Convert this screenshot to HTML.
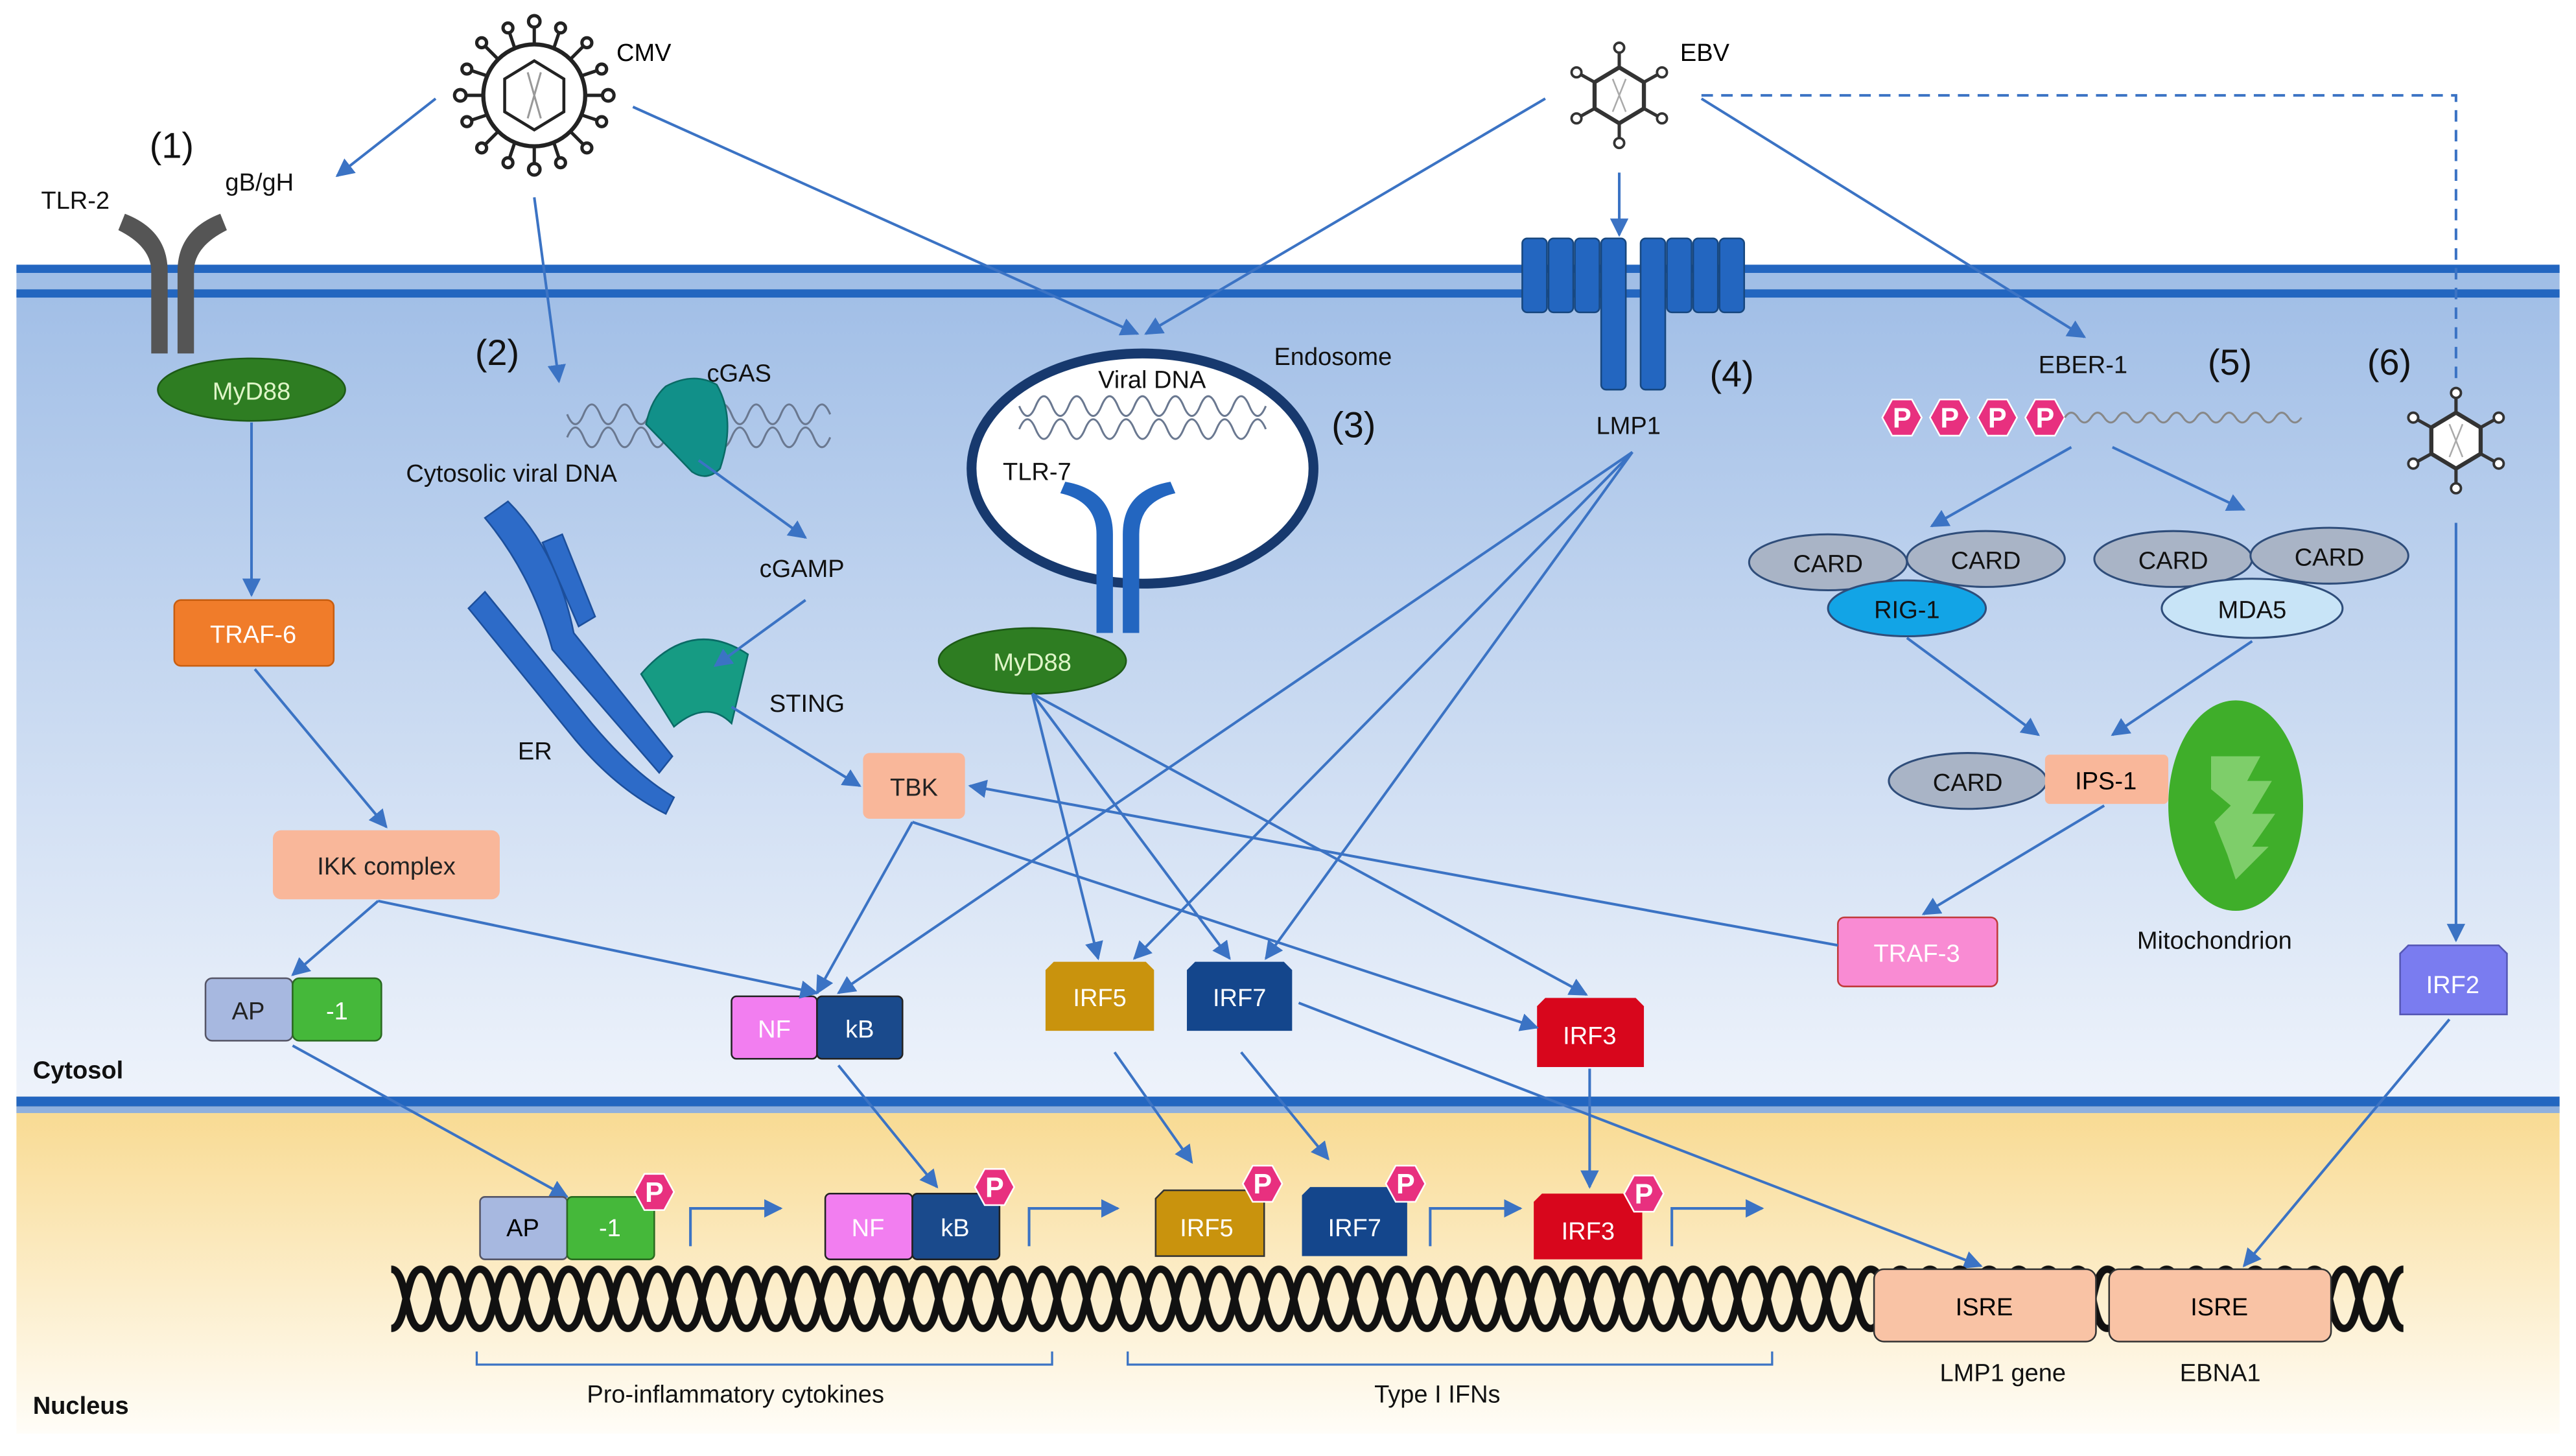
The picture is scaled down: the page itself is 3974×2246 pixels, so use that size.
<!DOCTYPE html>
<html><head><meta charset="utf-8"><style>
html,body{margin:0;padding:0;background:#fff}
svg{display:block}
text{font-family:"Liberation Sans",sans-serif}
</style></head><body>
<svg width="3974" height="2246" viewBox="0 0 1567 885.6" preserveAspectRatio="none" xmlns="http://www.w3.org/2000/svg">
<defs>
<linearGradient id="cyt" x1="0" y1="0" x2="0" y2="1"><stop offset="0" stop-color="#9fbde6"/><stop offset="1" stop-color="#eef3fb"/></linearGradient>
<linearGradient id="nuc" x1="0" y1="0" x2="0" y2="1"><stop offset="0" stop-color="#f8d98e"/><stop offset="1" stop-color="#fffdf8"/></linearGradient>
<marker id="ah" viewBox="0 0 10 10" refX="9" refY="5" markerWidth="7" markerHeight="7" orient="auto-start-reverse"><path d="M0,0 L10,5 L0,10 z" fill="#3b73c4"/></marker>
<pattern id="dna" patternUnits="userSpaceOnUse" x="238" y="768" width="36" height="44">
<path d="M0,4 C10,4 8,40 18,40 C28,40 26,4 36,4" fill="none" stroke="#111" stroke-width="4.5"/>
<path d="M0,40 C10,40 8,4 18,4 C28,4 26,40 36,40" fill="none" stroke="#111" stroke-width="4.5"/>
</pattern>
<g id="pp"><polygon points="-6,-11 6,-11 12,0 6,11 -6,11 -12,0" fill="#e8307f" stroke="#fff" stroke-width="1"/><text x="0" y="6" font-size="17" font-weight="bold" fill="#fff" text-anchor="middle">P</text></g>
<g id="ebv"><polygon points="0,-17 15,-8 15,8 0,17 -15,8 -15,-8" fill="#fff" stroke="#333" stroke-width="2.5"/>
<path d="M0,-17V-27M0,17V27M15,-8L24,-13M-15,-8L-24,-13M15,8L24,13M-15,8L-24,13" stroke="#333" stroke-width="2"/>
<circle cx="0" cy="-29" r="3" fill="#fff" stroke="#333" stroke-width="1.5"/><circle cx="0" cy="29" r="3" fill="#fff" stroke="#333" stroke-width="1.5"/>
<circle cx="26" cy="-14" r="3" fill="#fff" stroke="#333" stroke-width="1.5"/><circle cx="-26" cy="-14" r="3" fill="#fff" stroke="#333" stroke-width="1.5"/>
<circle cx="26" cy="14" r="3" fill="#fff" stroke="#333" stroke-width="1.5"/><circle cx="-26" cy="14" r="3" fill="#fff" stroke="#333" stroke-width="1.5"/>
<path d="M-4,-10 L4,10 M4,-10 L-4,10" stroke="#aaa" stroke-width="1"/></g>
</defs>
<rect x="10" y="162" width="1547" height="505" fill="url(#cyt)"/>
<rect x="10" y="667" width="1547" height="205" fill="url(#nuc)"/>
<rect x="10" y="161" width="1547" height="5" fill="#2366c0"/>
<rect x="10" y="176" width="1547" height="5" fill="#2366c0"/>
<rect x="10" y="667" width="1547" height="6" fill="#2366c0"/>
<rect x="10" y="673" width="1547" height="4" fill="#8fb0de"/>

<ellipse cx="695" cy="285" rx="104" ry="70" fill="#fff" stroke="#17396e" stroke-width="6"/>

<g transform="translate(325,58)">
<circle r="31" fill="#fff" stroke="#222" stroke-width="2.5"/>
<polygon points="0,-21 18,-10 18,10 0,21 -18,10 -18,-10" fill="none" stroke="#222" stroke-width="1.8"/>
<path d="M-4,-14 L4,14 M4,-14 L-4,14" stroke="#999" stroke-width="1.2"/>
<g stroke="#222" stroke-width="2" fill="#fff">
<path d="M0,-31V-42M0,31V42M31,0H42M-31,0H-42M22,-22L30,-30M-22,-22L-30,-30M22,22L30,30M-22,22L-30,30M12,-29L15,-38M-12,-29L-15,-38M12,29L15,38M-12,29L-15,38M29,12L38,15M-29,12L-38,15M29,-12L38,-15M-29,-12L-38,-15"/>
<circle cx="0" cy="-45" r="3.5"/><circle cx="0" cy="45" r="3.5"/><circle cx="45" cy="0" r="3.5"/><circle cx="-45" cy="0" r="3.5"/>
<circle cx="32" cy="-32" r="3"/><circle cx="-32" cy="-32" r="3"/><circle cx="32" cy="32" r="3"/><circle cx="-32" cy="32" r="3"/>
<circle cx="16" cy="-41" r="3"/><circle cx="-16" cy="-41" r="3"/><circle cx="16" cy="41" r="3"/><circle cx="-16" cy="41" r="3"/>
<circle cx="41" cy="16" r="3"/><circle cx="-41" cy="16" r="3"/><circle cx="41" cy="-16" r="3"/><circle cx="-41" cy="-16" r="3"/></g>
</g>
<text x="375" y="37" font-size="15">CMV</text>
<use href="#ebv" x="985" y="58"/>
<text x="1022" y="37" font-size="15">EBV</text>
<use href="#ebv" x="1494" y="268"/>

<g stroke="#6a7890" stroke-width="1.2" fill="none">
<path d="M345,252 q5,12 10,0 t10,0 t10,0 t10,0 t10,0 t10,0 t10,0 t10,0 t10,0 t10,0 t10,0 t10,0 t10,0 t10,0 t10,0 t10,0"/>
<path d="M345,266 q5,-12 10,0 t10,0 t10,0 t10,0 t10,0 t10,0 t10,0 t10,0 t10,0 t10,0 t10,0 t10,0 t10,0 t10,0 t10,0 t10,0"/>
<path d="M620,247 q5,12 10,0 t10,0 t10,0 t10,0 t10,0 t10,0 t10,0 t10,0 t10,0 t10,0 t10,0 t10,0 t10,0 t10,0 t10,0"/>
<path d="M620,261 q5,-12 10,0 t10,0 t10,0 t10,0 t10,0 t10,0 t10,0 t10,0 t10,0 t10,0 t10,0 t10,0 t10,0 t10,0 t10,0"/>
</g>

<g font-size="22" fill="#111">
<text x="91" y="96">(1)</text><text x="289" y="222">(2)</text><text x="810" y="266">(3)</text><text x="1040" y="235">(4)</text><text x="1343" y="228">(5)</text><text x="1440" y="228">(6)</text></g>
<g font-size="15" fill="#111">
<text x="25" y="127">TLR-2</text><text x="137" y="116">gB/gH</text>
<text x="430" y="232">cGAS</text><text x="247" y="293">Cytosolic viral DNA</text>
<text x="462" y="351">cGAMP</text><text x="468" y="433">STING</text><text x="315" y="462">ER</text>
<text x="668" y="236">Viral DNA</text><text x="775" y="222">Endosome</text><text x="610" y="292">TLR-7</text>
<text x="971" y="264">LMP1</text><text x="1240" y="227">EBER-1</text>
<text x="1300" y="577">Mitochondrion</text>
<text x="1180" y="840">LMP1 gene</text><text x="1326" y="840">EBNA1</text>
<text x="357" y="853">Pro-inflammatory cytokines</text><text x="836" y="853">Type I IFNs</text>
<text x="20" y="656" font-weight="bold">Cytosol</text><text x="20" y="860" font-weight="bold">Nucleus</text>
</g>

<g fill="#555">
<path d="M92,215 V165 Q92,150 72,140 L76,130 Q102,140 102,165 V215 z"/>
<path d="M118,215 V165 Q118,150 138,140 L134,130 Q108,140 108,165 V215 z"/></g>
<ellipse cx="153" cy="237" rx="57" ry="19" fill="#2e7d22" stroke="#1d5a16"/>
<text x="153" y="243" font-size="15" fill="#dff5c8" text-anchor="middle">MyD88</text>

<g font-size="15" text-anchor="middle">
<rect x="106" y="365" width="97" height="40" rx="4" fill="#f07c2a" stroke="#c85e10"/><text x="154" y="391" fill="#fff">TRAF-6</text>
<rect x="166" y="505" width="138" height="42" rx="5" fill="#f9b79a"/><text x="235" y="532" fill="#222">IKK complex</text>
<rect x="125" y="595" width="53" height="38" rx="4" fill="#a7b8e0" stroke="#556"/><text x="151" y="620" fill="#222">AP</text>
<rect x="178" y="595" width="54" height="38" rx="4" fill="#45b83a" stroke="#2a6a20"/><text x="205" y="620" fill="#fff">-1</text>
<rect x="525" y="458" width="62" height="40" rx="4" fill="#f9b79a"/><text x="556" y="484" fill="#222">TBK</text>
<rect x="445" y="606" width="52" height="38" rx="3" fill="#f27ef0" stroke="#222"/><text x="471" y="631" fill="#fff">NF</text>
<rect x="497" y="606" width="52" height="38" rx="3" fill="#1a4a8c" stroke="#222"/><text x="523" y="631" fill="#fff">kB</text>
<path d="M636,590 l5,-5 h56 l5,5 v37 h-66z" fill="#c9930d"/><text x="669" y="612" fill="#fff">IRF5</text>
<path d="M722,590 l5,-5 h54 l5,5 v37 h-64z" fill="#14468c"/><text x="754" y="612" fill="#fff">IRF7</text>
<path d="M935,612 l5,-5 h55 l5,5 v37 h-65z" fill="#d8061c"/><text x="967" y="635" fill="#fff">IRF3</text>
<path d="M1460,580 l5,-5 h55 l5,5 v37 h-65z" fill="#7a7cf0" stroke="#5557b5"/><text x="1492" y="604" fill="#fff">IRF2</text>
<rect x="1118" y="558" width="97" height="42" rx="4" fill="#f98bd3" stroke="#c03a3a"/><text x="1166" y="585" fill="#fff">TRAF-3</text>
</g>

<path d="M405,235 Q422,226 436,234 Q448,255 438,285 Q430,293 421,287 L393,258 Q396,243 405,235z" fill="#119089" stroke="#0a6b66"/>
<path d="M390,410 Q420,375 455,398 L445,440 Q430,425 410,442 z" fill="#169b83" stroke="#0a6b66"/>
<g fill="#2d6bc8" stroke="#1c4f9c">
<path d="M295,315 l14,-10 q30,30 40,80 l60,75 l-8,10 l-65,-75 q-12,-45 -41,-80z"/>
<path d="M285,370 l10,-10 l65,80 q25,30 50,45 l-5,10 q-30,-15 -55,-45z"/>
<path d="M330,330 l12,-5 l20,50 l-10,6z"/>
</g>
<g fill="#2366c0"><path d="M667,385 V325 Q667,305 645,300 L648,293 Q677,298 677,325 V385z"/><path d="M693,385 V325 Q693,305 715,300 L712,293 Q683,298 683,325 V385z"/></g>
<ellipse cx="628" cy="402" rx="57" ry="20" fill="#2e7d22" stroke="#1d5a16"/>
<text x="628" y="408" font-size="15" fill="#dff5c8" text-anchor="middle">MyD88</text>
<g fill="#2366c0" stroke="#17477f" stroke-width="1">
<rect x="926" y="145" width="15" height="45" rx="3"/><rect x="942" y="145" width="15" height="45" rx="3"/><rect x="958" y="145" width="15" height="45" rx="3"/>
<rect x="974" y="145" width="15" height="92" rx="3"/><rect x="998" y="145" width="15" height="92" rx="3"/>
<rect x="1014" y="145" width="15" height="45" rx="3"/><rect x="1030" y="145" width="15" height="45" rx="3"/><rect x="1046" y="145" width="15" height="45" rx="3"/>
</g>
<use href="#pp" x="1157" y="254"/><use href="#pp" x="1186" y="254"/><use href="#pp" x="1215" y="254"/><use href="#pp" x="1244" y="254"/>
<path d="M1256,254 q4,-6 8,0 t8,0 t8,0 t8,0 t8,0 t8,0 t8,0 t8,0 t8,0 t8,0 t8,0 t8,0 t8,0 t8,0 t8,0 t8,0 t8,0 t8,0" fill="none" stroke="#888" stroke-width="1.2"/>
<g stroke="#2f4d7a" stroke-width="1.2" font-size="15" text-anchor="middle">
<ellipse cx="1112" cy="342" rx="48" ry="17" fill="#a9b4c6"/><ellipse cx="1208" cy="340" rx="48" ry="17" fill="#a9b4c6"/>
<ellipse cx="1160" cy="370" rx="48" ry="17" fill="#12a4e6"/>
<ellipse cx="1322" cy="340" rx="48" ry="17" fill="#a9b4c6"/><ellipse cx="1417" cy="338" rx="48" ry="17" fill="#a9b4c6"/>
<ellipse cx="1370" cy="370" rx="55" ry="18" fill="#c8e4f7"/>
<ellipse cx="1197" cy="475" rx="48" ry="17" fill="#a9b4c6"/>
<g stroke="none" fill="#111"><text x="1112" y="348">CARD</text><text x="1208" y="346">CARD</text><text x="1160" y="376">RIG-1</text>
<text x="1322" y="346">CARD</text><text x="1417" y="344">CARD</text><text x="1370" y="376">MDA5</text><text x="1197" y="481">CARD</text></g>
</g>
<rect x="1244" y="459" width="75" height="30" rx="3" fill="#f9b79a"/><text x="1281" y="480" font-size="15" text-anchor="middle">IPS-1</text>
<ellipse cx="1360" cy="490" rx="41" ry="64" fill="#3fae2a"/>
<path d="M1345,460 h30 l-8,15 h15 l-12,20 h14 l-14,20 h10 l-20,20 l-5,-15 l-8,-20 l10,-10 l-12,-10z" fill="#8fd67a" opacity="0.8"/>

<g stroke="#3b73c4" stroke-width="1.6" fill="none" marker-end="url(#ah)">
<path d="M265,60 L205,107"/><path d="M325,120 L340,232"/><path d="M385,65 L692,203"/>
<path d="M940,60 L697,203"/><path d="M985,105 V143"/><path d="M1035,60 L1268,205"/>
<path d="M153,257 V362"/><path d="M155,407 L235,503"/><path d="M230,548 L178,593"/><path d="M230,548 L497,604"/>
<path d="M425,280 L490,327"/><path d="M490,365 L435,405"/><path d="M445,430 L523,478"/>
<path d="M555,500 L497,604"/><path d="M555,500 L935,625"/><path d="M1118,575 L590,478"/>
<path d="M628,422 L668,583"/><path d="M628,422 L748,583"/><path d="M628,422 L965,605"/>
<path d="M993,275 L510,604"/><path d="M993,275 L690,583"/><path d="M993,275 L770,583"/>
<path d="M1260,272 L1175,320"/><path d="M1285,272 L1365,310"/>
<path d="M1160,388 L1240,447"/><path d="M1370,390 L1285,447"/><path d="M1280,490 L1170,556"/>
<path d="M1494,318 V572"/><path d="M1490,620 L1365,770"/><path d="M790,610 L1205,770"/>
<path d="M178,636 L345,728"/><path d="M510,648 L570,722"/><path d="M678,640 L725,707"/><path d="M755,640 L808,705"/><path d="M967,650 V722"/>
<path d="M420,758 V735 H475"/><path d="M626,758 V735 H680"/><path d="M870,758 V735 H925"/><path d="M1017,758 V735 H1072"/>
</g>
<path d="M1035,58 H1494 V230" stroke="#3b73c4" stroke-width="1.6" fill="none" stroke-dasharray="7,5"/>

<rect x="238" y="768" width="1224" height="44" fill="url(#dna)"/>
<g font-size="15" text-anchor="middle">
<rect x="1140" y="772" width="135" height="44" rx="6" fill="#f9c3a5" stroke="#333"/><text x="1207" y="800">ISRE</text>
<rect x="1283" y="772" width="135" height="44" rx="6" fill="#f9c3a5" stroke="#333"/><text x="1350" y="800">ISRE</text>
<rect x="292" y="728" width="53" height="38" rx="3" fill="#a7b8e0" stroke="#556"/><text x="318" y="752">AP</text>
<rect x="345" y="728" width="53" height="38" rx="3" fill="#45b83a" stroke="#2a6a20"/><text x="371" y="752" fill="#fff">-1</text>
<rect x="502" y="726" width="53" height="40" rx="3" fill="#f27ef0" stroke="#222"/><text x="528" y="752" fill="#fff">NF</text>
<rect x="555" y="726" width="53" height="40" rx="3" fill="#1a4a8c" stroke="#222"/><text x="581" y="752" fill="#fff">kB</text>
<path d="M703,729 l5,-5 h56 l5,5 v35 h-66z" fill="#c9930d" stroke="#333"/><text x="734" y="752" fill="#fff">IRF5</text>
<path d="M792,727 l5,-5 h54 l5,5 v37 h-64z" fill="#14468c"/><text x="824" y="752" fill="#fff">IRF7</text>
<path d="M933,731 l5,-5 h56 l5,5 v35 h-66z" fill="#d8061c"/><text x="966" y="754" fill="#fff">IRF3</text>
</g>
<use href="#pp" x="398" y="725"/><use href="#pp" x="605" y="722"/><use href="#pp" x="768" y="720"/><use href="#pp" x="855" y="720"/><use href="#pp" x="1000" y="726"/>
<path d="M290,822 V830 H640 V822 M686,822 V830 H1078 V822" stroke="#3b73c4" stroke-width="1.3" fill="none"/>
</svg>
</body></html>
